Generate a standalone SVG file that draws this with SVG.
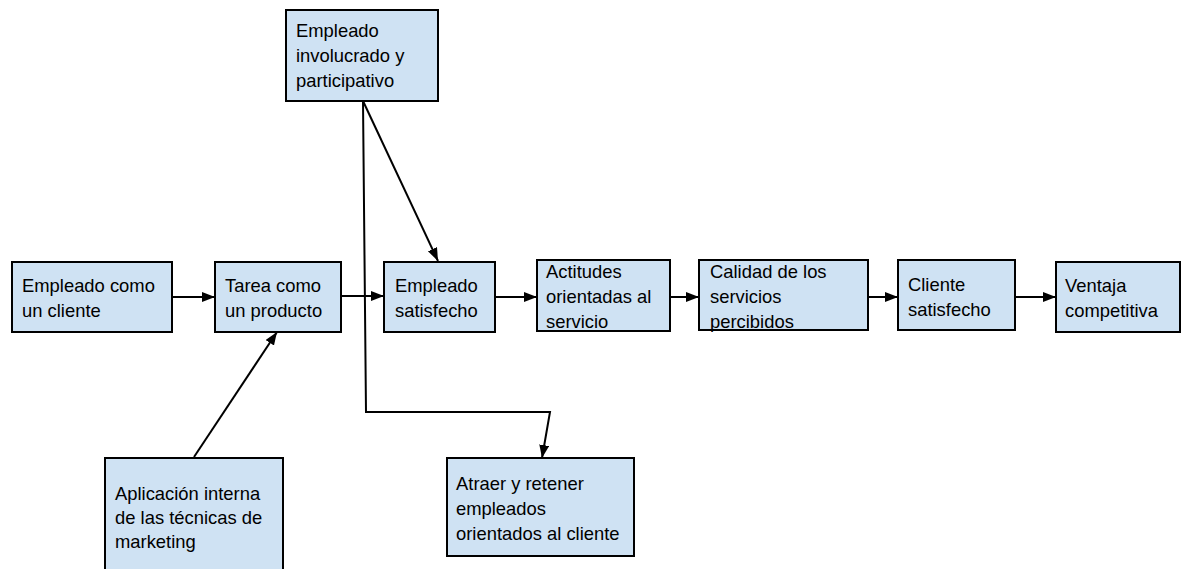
<svg xmlns="http://www.w3.org/2000/svg" width="1181" height="569" viewBox="0 0 1181 569">
<style>
.box{fill:#cfe2f3;stroke:#000;stroke-width:2}
.t{font-family:"Liberation Sans",Arial,sans-serif;font-size:18.4px;fill:#000}
.c{fill:none;stroke:#000;stroke-width:2}
</style>
<defs>
<marker id="ah" markerUnits="userSpaceOnUse" markerWidth="14" markerHeight="11" refX="13" refY="5" orient="auto">
<path d="M0,0 L13,5 L0,10 z" fill="#000"/>
</marker>
</defs>
<rect width="1181" height="569" fill="#fff"/>
<g id="connectors">
<line class="c" x1="172" y1="297" x2="215" y2="297" marker-end="url(#ah)"/>
<line class="c" x1="341" y1="296" x2="384" y2="296" marker-end="url(#ah)"/>
<line class="c" x1="495" y1="297" x2="537" y2="297" marker-end="url(#ah)"/>
<line class="c" x1="670" y1="297" x2="699" y2="297" marker-end="url(#ah)"/>
<line class="c" x1="868" y1="297" x2="898" y2="297" marker-end="url(#ah)"/>
<line class="c" x1="1015" y1="297" x2="1056" y2="297" marker-end="url(#ah)"/>
<line class="c" x1="363" y1="101" x2="438" y2="261" marker-end="url(#ah)"/>
<polyline class="c" points="363,101 366,412 550,412 542,458" marker-end="url(#ah)"/>
<line class="c" x1="194" y1="457" x2="277" y2="332" marker-end="url(#ah)"/>
</g>
<g id="n1"><rect class="box" x="12" y="262" width="160" height="70"/>
<text class="t" x="22" y="292">Empleado como</text><text class="t" x="22" y="317">un cliente</text></g>
<g id="n2"><rect class="box" x="215" y="262" width="126" height="70"/>
<text class="t" x="225" y="292">Tarea como</text><text class="t" x="225" y="317">un producto</text></g>
<g id="n3"><rect class="box" x="384" y="262" width="111" height="70"/>
<text class="t" x="395" y="292">Empleado</text><text class="t" x="395" y="317">satisfecho</text></g>
<g id="n4"><rect class="box" x="537" y="260" width="133" height="71"/>
<text class="t" x="546" y="278">Actitudes</text><text class="t" x="546" y="303">orientadas al</text><text class="t" x="546" y="328">servicio</text></g>
<g id="n5"><rect class="box" x="699" y="260" width="169" height="70"/>
<text class="t" x="710" y="278">Calidad de los</text><text class="t" x="710" y="303">servicios</text><text class="t" x="710" y="328">percibidos</text></g>
<g id="n6"><rect class="box" x="898" y="260" width="117" height="70"/>
<text class="t" x="908" y="291">Cliente</text><text class="t" x="908" y="316">satisfecho</text></g>
<g id="n7"><rect class="box" x="1056" y="262" width="124" height="70"/>
<text class="t" x="1065" y="292">Ventaja</text><text class="t" x="1065" y="317">competitiva</text></g>
<g id="n8"><rect class="box" x="286" y="10" width="152" height="91"/>
<text class="t" x="296" y="37">Empleado</text><text class="t" x="296" y="62">involucrado y</text><text class="t" x="296" y="87">participativo</text></g>
<g id="n9"><rect class="box" x="105" y="458" width="178" height="120"/>
<text class="t" x="115" y="500">Aplicación interna</text><text class="t" x="115" y="524">de las técnicas de</text><text class="t" x="115" y="548">marketing</text></g>
<g id="n10"><rect class="box" x="447" y="458" width="187" height="98"/>
<text class="t" x="456" y="490">Atraer y retener</text><text class="t" x="456" y="515">empleados</text><text class="t" x="456" y="540">orientados al cliente</text></g>
</svg>
